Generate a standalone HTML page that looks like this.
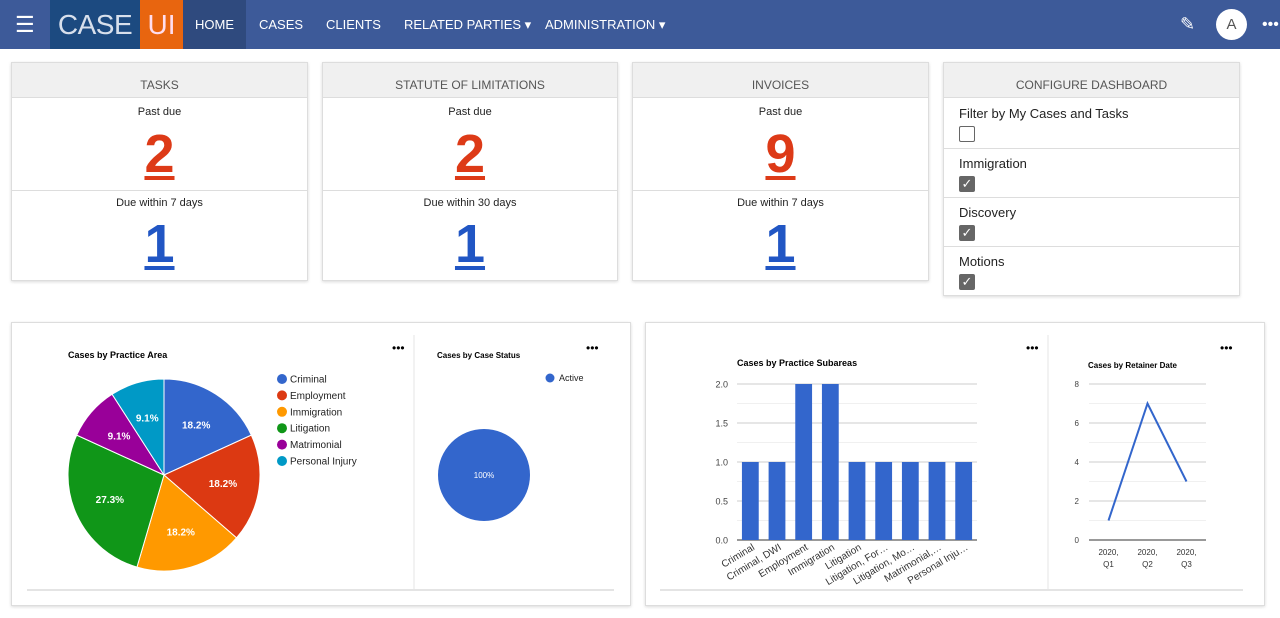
<!DOCTYPE html>
<html><head><meta charset="utf-8">
<style>
*{box-sizing:border-box;margin:0;padding:0}
body{width:1280px;height:618px;overflow:hidden;background:#fff;font-family:"Liberation Sans",Arial,sans-serif;position:relative}
.nav{position:absolute;left:0;top:0;width:1280px;height:49px;background:#3d5a99}
.nav .item{position:absolute;top:0;height:49px;line-height:49px;color:#fff;font-size:13px}
.card{position:absolute;background:#fff;border:1px solid #ddd;box-shadow:0 1px 3px rgba(0,0,0,.15)}
.card .hd{height:35px;background:#f0f0f0;border-bottom:1px solid #ddd;text-align:center;line-height:44px;font-size:12px;color:#555}
.lbl{position:absolute;width:100%;text-align:center;font-size:11px;color:#222}
.num{position:absolute;width:100%;text-align:center;font-size:54px;font-weight:bold;text-decoration:underline;text-decoration-thickness:4px;text-underline-offset:4px}
.cfg{position:absolute;left:0;width:100%;border-top:1px solid #ddd;font-size:13px;color:#222;padding-left:15px}
.cb{position:absolute;left:15px;width:16px;height:16px;border:1.5px solid #666;border-radius:2px;background:#fff}
.cb.on{background:#666;color:#fff;font-size:13px;line-height:14px;text-align:center}
</style></head><body>
<div class="nav">
 <div class="item" style="left:15px;font-size:22px">☰</div>
 <div style="position:absolute;left:50px;top:0;width:90px;height:49px;background:#1c4a80;color:#d8e0ec;font-size:28px;line-height:49px;text-align:center;letter-spacing:-0.5px">CASE</div>
 <div style="position:absolute;left:140px;top:0;width:43px;height:49px;background:#e8650f;color:#fde;font-size:28px;line-height:49px;text-align:center">UI</div>
 <div class="item" style="left:183px;width:63px;background:#2f4a7e;text-align:center">HOME</div>
 <div class="item" style="left:259px">CASES</div>
 <div class="item" style="left:326px">CLIENTS</div>
 <div class="item" style="left:404px">RELATED PARTIES ▾</div>
 <div class="item" style="left:545px">ADMINISTRATION ▾</div>
 <div class="item" style="left:1180px;font-size:18px">✎</div>
 <div style="position:absolute;left:1216px;top:9px;width:31px;height:31px;border-radius:50%;background:#fff;color:#555;text-align:center;line-height:31px;font-size:15px">A</div>
 <div class="item" style="left:1262px;font-size:16px">•••</div>
</div>

<div class="card" style="left:11px;top:62px;width:297px;height:219px">
 <div class="hd">TASKS</div>
 <div class="lbl" style="top:43px">Past due</div>
 <div class="num" style="top:60px;color:#dd3a17">2</div>
 <div style="position:absolute;top:127px;width:100%;border-top:1px solid #ddd"></div>
 <div class="lbl" style="top:134px">Due within 7 days</div>
 <div class="num" style="top:150px;color:#2156c4">1</div>
</div>
<div class="card" style="left:322px;top:62px;width:296px;height:219px">
 <div class="hd">STATUTE OF LIMITATIONS</div>
 <div class="lbl" style="top:43px">Past due</div>
 <div class="num" style="top:60px;color:#dd3a17">2</div>
 <div style="position:absolute;top:127px;width:100%;border-top:1px solid #ddd"></div>
 <div class="lbl" style="top:134px">Due within 30 days</div>
 <div class="num" style="top:150px;color:#2156c4">1</div>
</div>
<div class="card" style="left:632px;top:62px;width:297px;height:219px">
 <div class="hd">INVOICES</div>
 <div class="lbl" style="top:43px">Past due</div>
 <div class="num" style="top:60px;color:#dd3a17">9</div>
 <div style="position:absolute;top:127px;width:100%;border-top:1px solid #ddd"></div>
 <div class="lbl" style="top:134px">Due within 7 days</div>
 <div class="num" style="top:150px;color:#2156c4">1</div>
</div>
<div class="card" style="left:943px;top:62px;width:297px;height:234px">
 <div class="hd">CONFIGURE DASHBOARD</div>
 <div class="cfg" style="top:35px;height:50px;border-top:none;padding-top:8px">Filter by My Cases and Tasks<div class="cb" style="top:28px"></div></div>
 <div class="cfg" style="top:85px;height:49px;padding-top:7px">Immigration<div class="cb on" style="top:27px">✓</div></div>
 <div class="cfg" style="top:134px;height:49px;padding-top:7px">Discovery<div class="cb on" style="top:27px">✓</div></div>
 <div class="cfg" style="top:183px;height:50px;padding-top:7px">Motions<div class="cb on" style="top:27px">✓</div></div>
</div>

<div class="card" style="left:11px;top:322px;width:620px;height:284px"></div>
<div class="card" style="left:645px;top:322px;width:620px;height:284px"></div>

<svg id="charts" width="1280" height="618" style="position:absolute;left:0;top:0" font-family="Liberation Sans, Arial, sans-serif">
 <line x1="414" y1="335" x2="414" y2="590" stroke="#e4e4e4"/>
 <line x1="27" y1="590" x2="614" y2="590" stroke="#e4e4e4" stroke-width="2"/>
 <line x1="1048" y1="335" x2="1048" y2="590" stroke="#e4e4e4"/>
 <line x1="660" y1="590" x2="1243" y2="590" stroke="#e4e4e4" stroke-width="2"/>
 <text x="68" y="358" font-size="9" font-weight="bold">Cases by Practice Area</text>
 <text x="437" y="358" font-size="8" font-weight="bold">Cases by Case Status</text>
 <text x="737" y="366" font-size="9" font-weight="bold">Cases by Practice Subareas</text>
 <text x="1088" y="368" font-size="8" font-weight="bold">Cases by Retainer Date</text>
 <text x="392" y="352" font-size="12">•••</text>
 <text x="586" y="352" font-size="12">•••</text>
 <text x="1026" y="352" font-size="12">•••</text>
 <text x="1220" y="352" font-size="12">•••</text>
 <g id="pie"></g><g id="status"></g><g id="bars"></g><g id="line"></g>
</svg>
<script>
const NS="http://www.w3.org/2000/svg";
function mk(tag,attrs,parent,txt){const e=document.createElementNS(NS,tag);for(const k in attrs)e.setAttribute(k,attrs[k]);if(txt!==undefined)e.textContent=txt;parent.appendChild(e);return e;}
// Pie data
const pieCategories=["Criminal","Employment","Immigration","Litigation","Matrimonial","Personal Injury"];
const pieValues=[2,2,2,3,1,1];
const pieColors=["#3366cc","#dc3912","#ff9900","#109618","#990099","#0099c6"];
// Status data
const statusCategories=["Active"];
const statusValues=[1];
// Bar data
const barCategories=["Criminal","Criminal, DWI","Employment","Immigration","Litigation","Litigation, For…","Litigation, Mo…","Matrimonial,…","Personal Inju…"];
const barValues=[1,1,2,2,1,1,1,1,1];
const barTicks=[0,0.5,1,1.5,2];
// Line data
const lineCategories=["2020, Q1","2020, Q2","2020, Q3"];
const lineValues=[1,7,3];
const lineTicks=[0,2,4,6,8];

// Pie
(function(){
 const g=document.getElementById('pie');const cx=164,cy=475,r=96;
 const total=pieValues.reduce((a,b)=>a+b,0);let a0=0;
 pieValues.forEach((v,i)=>{
  const a1=a0+v/total*2*Math.PI;
  const p=(a)=>[cx+r*Math.sin(a),cy-r*Math.cos(a)];
  const [x0,y0]=p(a0),[x1,y1]=p(a1);
  const s=mk('path',{d:`M${cx},${cy}L${x0},${y0}A${r},${r} 0 ${a1-a0>Math.PI?1:0} 1 ${x1},${y1}Z`,fill:pieColors[i],stroke:'#fff','stroke-width':1},g);
  
  
  const am=(a0+a1)/2,lr=r*0.62;
  const t=mk('text',{x:cx+lr*Math.sin(am),y:cy-lr*Math.cos(am)+3.5,'font-size':10,'font-weight':'bold',fill:'#fff','text-anchor':'middle'},g,(v/total*100).toFixed(1)+'%');
  
  
  a0=a1;
 });
 pieCategories.forEach((c,i)=>{
  const y=379+i*16.4;
  const d=mk('circle',{cx:282,cy:y,r:5,fill:pieColors[i]},g);
  
  
  const t=mk('text',{x:290,y:y+3.5,'font-size':10,fill:'#222'},g,c);
  
  
 });
})();
// Status
(function(){
 const g=document.getElementById('status');
 const c=mk('circle',{cx:484,cy:475,r:46*statusValues[0]/statusValues[0],fill:'#3366cc'},g);
 
 
 const t=mk('text',{x:484,y:478,'font-size':8,fill:'#fff','text-anchor':'middle'},g,'100%');
 
 
 const m=mk('circle',{cx:550,cy:378,r:4.5,fill:'#3366cc'},g);
 
 
 const l=mk('text',{x:559,y:381,'font-size':9,fill:'#222'},g,statusCategories[0]);
 
 
})();
// Bars
(function(){
 const g=document.getElementById('bars');const x0=737,x1=977,y0=540,y1=384,max=2;
 const ys=v=>y0-(v/max)*(y0-y1);
 for(let v=0.25;v<2;v+=0.5){mk('line',{x1:x0,x2:x1,y1:ys(v),y2:ys(v),stroke:'#f0f0f0'},g);}
 barTicks.forEach(v=>{
  mk('line',{x1:x0,x2:x1,y1:ys(v),y2:ys(v),stroke:v===0?'#333':'#ccc'},g);
  const t=mk('text',{x:728,y:ys(v)+3.5,'font-size':9,fill:'#444','text-anchor':'end'},g,v.toFixed(1));
  
  
 });
 const step=(x1-x0)/barCategories.length,bw=step*0.63;
 barCategories.forEach((c,i)=>{
  const cx=x0+step*(i+0.5);
  const b=mk('rect',{x:cx-bw/2,y:ys(barValues[i]),width:bw,height:y0-ys(barValues[i]),fill:'#3366cc'},g);
  
  
  const t=mk('text',{x:cx+5,y:549,'font-size':10,fill:'#333','text-anchor':'end',transform:`rotate(-31 ${cx+5} 549)`},g,c);
  
  
 });
})();
// Line
(function(){
 const g=document.getElementById('line');const x0=1089,x1=1206,y0=540,y1=384,max=8;
 const ys=v=>y0-(v/max)*(y0-y1);
 for(let v=1;v<8;v+=2){mk('line',{x1:x0,x2:x1,y1:ys(v),y2:ys(v),stroke:'#f0f0f0'},g);}
 lineTicks.forEach(v=>{
  mk('line',{x1:x0,x2:x1,y1:ys(v),y2:ys(v),stroke:v===0?'#333':'#ccc'},g);
  const t=mk('text',{x:1079,y:ys(v)+3,'font-size':8,fill:'#444','text-anchor':'end'},g,String(v));
  
  
 });
 const step=(x1-x0)/lineCategories.length;
 const xs=i=>x0+step*(i+0.5);
 const pts=lineValues.map((v,i)=>xs(i)+','+ys(v)).join(' ');
 const pl=mk('polyline',{points:pts,fill:'none',stroke:'#3366cc','stroke-width':2},g);
 
 
 lineCategories.forEach((c,i)=>{
  const parts=c.split(' ');
  const t1=mk('text',{x:xs(i),y:555,'font-size':8,fill:'#333','text-anchor':'middle'},g,parts[0]);
  
  
  const t2=mk('text',{x:xs(i),y:567,'font-size':8,fill:'#333','text-anchor':'middle'},g,parts[1]);
  
  
 });
})();
</script>
</body></html>
